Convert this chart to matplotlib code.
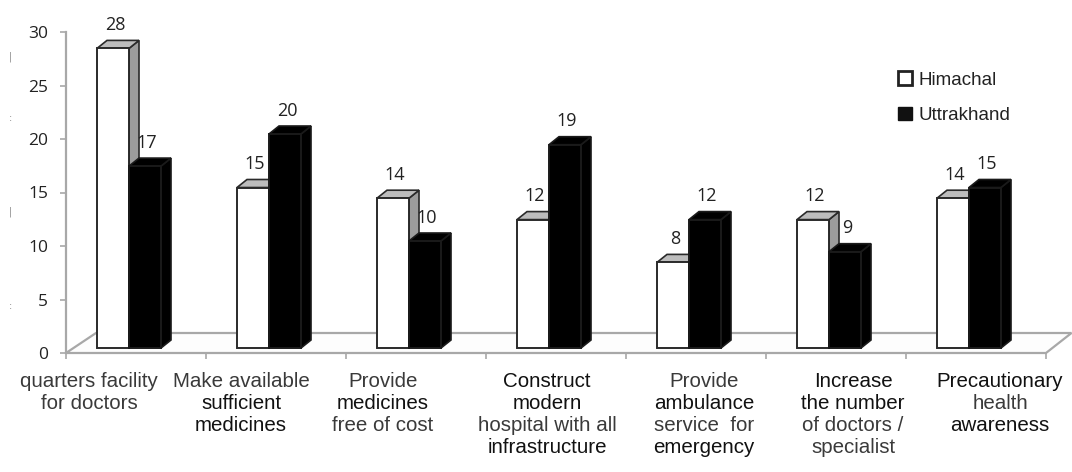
import matplotlib
matplotlib.use("Agg")
import matplotlib.pyplot as plt
from matplotlib.patches import Polygon, Rectangle, Patch

# ---------------- data ----------------
categories = [
    "quarters facility\nfor doctors",
    "Make available\nsufficient\nmedicines",
    "Provide\nmedicines\nfree of cost",
    "Construct\nmodern\nhospital with all\ninfrastructure",
    "Provide\nambulance\nservice  for\nemergency",
    "Increase\nthe number\nof doctors /\nspecialist",
    "Precautionary\nhealth\nawareness",
]
himachal = [28, 15, 14, 12, 8, 12, 14]
uttrakhand = [17, 20, 10, 19, 12, 9, 15]
series_names = ["Himachal", "Uttrakhand"]
yticks = [0, 5, 10, 15, 20, 25, 30]

# ---------------- style / layout ----------------
# which label lines are rendered darker (as in the source image)
strong_lines = [
    [False, False],
    [False, True, True],
    [False, True, False],
    [True, True, False, True],
    [False, True, False, True],
    [True, True, False, False],
    [True, False, True],
]
label_dx_px = [-47, -35, -33, -9, 8, 17, 24]

W, H = 1072, 472
fig = plt.figure(figsize=(W / 100, H / 100), dpi=100)
fig.patch.set_facecolor("white")
ax = fig.add_axes([66 / W, 119 / H, 980 / W, 321 / H])
ax.set_xlim(0, 7)
ax.set_ylim(0, 30)
ax.set_facecolor("none")

PX = 1 / 140.0          # x data units per pixel
PY = 30 / 321.0         # y data units per pixel

# spines / ticks
for s in ["top", "right", "bottom"]:
    ax.spines[s].set_visible(False)
ax.spines["left"].set_color("#a8a8a8")
ax.spines["left"].set_linewidth(1.6)
ax.set_yticks(yticks)
ax.set_yticklabels([str(t) for t in yticks], fontsize=12.5, color="#222",
                   family=["Open Sans", "DejaVu Sans"])
ax.tick_params(axis="y", length=4, width=1.2, color="#a8a8a8", pad=9)
ax.set_xticks(range(8))
ax.set_xticklabels([])
ax.tick_params(axis="x", length=4, width=1.2, color="#a8a8a8")

# floor
fdx, fdy = 30 * PX, 20 * PY
floor = Polygon([(0, 0), (7, 0), (7 + fdx * 0.85, fdy), (fdx, fdy)],
                closed=True, facecolor="#fdfdfd", edgecolor="#a8a8a8",
                lw=1.6, clip_on=False, zorder=1)
ax.add_patch(floor)

# bars
w = 32 * PX
ddx, ddy = 10 * PX, 8 * PY
y0 = 5 * PY


def bar3d(x0, h, front, top, side, edge, z):
    yt = y0 + h
    ax.add_patch(Polygon([(x0 + w, y0), (x0 + w + ddx, y0 + ddy),
                          (x0 + w + ddx, yt + ddy), (x0 + w, yt)],
                         closed=True, facecolor=side, edgecolor=edge, lw=1.2,
                         zorder=z, clip_on=False))
    ax.add_patch(Polygon([(x0, yt), (x0 + w, yt), (x0 + w + ddx, yt + ddy),
                          (x0 + ddx, yt + ddy)],
                         closed=True, facecolor=top, edgecolor=edge, lw=1.2,
                         zorder=z, clip_on=False))
    ax.add_patch(Rectangle((x0, y0), w, h, facecolor=front, edgecolor=edge,
                           lw=1.4, zorder=z + 0.1, clip_on=False))


for i in range(len(categories)):
    hx = i + 31 * PX
    ux = hx + w
    bar3d(hx, himachal[i], "white", "#bdbdbd", "#9c9c9c", "#2a2a2a", 3)
    bar3d(ux, uttrakhand[i], "black", "black", "black", "#1a1a1a", 4)
    for x0, v in ((hx, himachal[i]), (ux, uttrakhand[i])):
        ax.annotate(str(v), xy=(x0 + w / 2 + 2 * PX, y0 + v + ddy),
                    xytext=(0, 4.5), textcoords="offset points",
                    ha="center", va="bottom", fontsize=13, color="#222",
                    family=["Open Sans", "DejaVu Sans"], zorder=6,
                    annotation_clip=False)

    # category labels, line by line
    lines = categories[i].split("\n")
    cx = i + 0.5
    for k, line in enumerate(lines):
        strong = strong_lines[i][k]
        ax.annotate(line, xy=(cx, 0),
                    xytext=(label_dx_px[i] * 0.72, -(34 + 22 * k) * 0.72),
                    textcoords="offset points", ha="center", va="baseline",
                    fontsize=14.8, color="#111" if strong else "#3a3a3a",
                    family=["Liberation Sans", "DejaVu Sans"],
                    annotation_clip=False)

# legend
handles = [Patch(facecolor="white", edgecolor="#222", linewidth=2.0),
           Patch(facecolor="#111", edgecolor="#111")]
leg = fig.legend(handles, series_names, loc="upper left",
                 bbox_to_anchor=(889 / W, 1 - 62 / H), frameon=False,
                 handlelength=0.75, handleheight=0.75, handletextpad=0.3,
                 labelspacing=0.95, borderpad=0,
                 prop={"family": ["Liberation Sans", "DejaVu Sans"], "size": 13.5})
for t in leg.get_texts():
    t.set_color("#222")

# faint artifacts at the left edge of the source image
for (yy, s) in ((57, "|"), (118, ":"), (212, "|"), (306, ":")):
    fig.text(10 / W, 1 - yy / H, s, fontsize=7, color="#888",
             ha="center", va="center")

fig.savefig("out.png", dpi=100, facecolor="white")
